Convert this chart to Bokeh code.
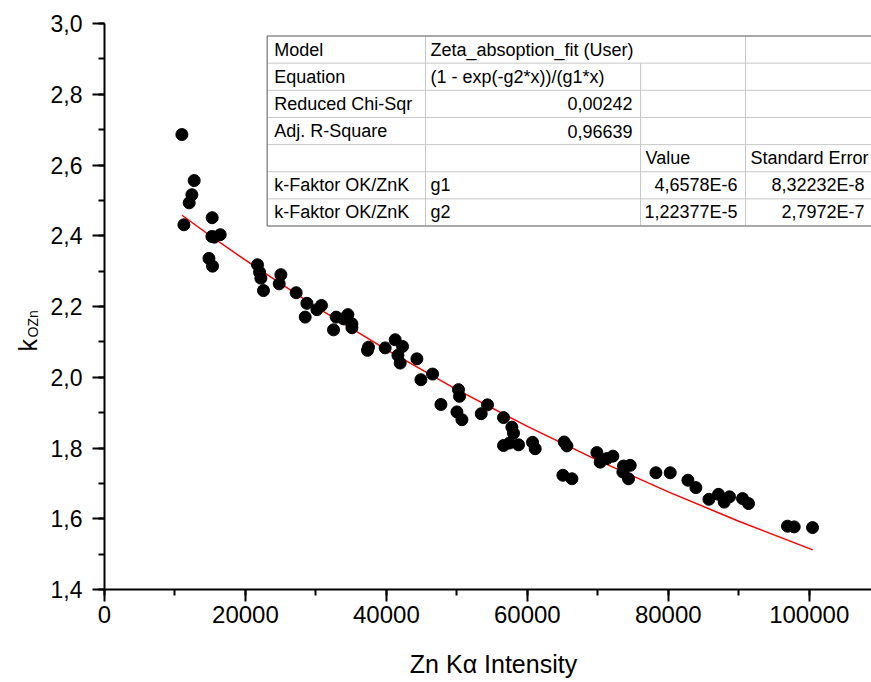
import math
from bokeh.plotting import figure
from bokeh.models import (Range1d, SingleIntervalTicker, CustomJSTickFormatter,
                          NumeralTickFormatter, Label)
from bokeh.embed import file_html
from bokeh.resources import INLINE

# ---------------- data ----------------
x_intensity = [10980, 12730, 12400, 12020, 11270, 15280, 15240, 15570, 16420, 14820,
               15330, 21710, 22000, 22190, 22560, 25030, 24790, 27200, 28720, 28480,
               30140, 30790, 32500, 32880, 34540, 33920, 35110, 35110, 37460, 37320,
               39830, 41250, 42290, 41640, 41960, 44330, 44900, 46550, 47740, 50230,
               50380, 50010, 50720, 53460, 54350, 56620, 57810, 58040, 56620, 57470,
               58750, 60740, 61120, 65230, 65620, 65050, 66330, 69870, 70340, 71290,
               72140, 73560, 74600, 73650, 74360, 78250, 80280, 82790, 83920, 85770,
               87130, 87940, 88690, 90540, 91390, 96920, 97870, 100470]
k_ozn = [2.686, 2.556, 2.516, 2.493, 2.431, 2.451, 2.398, 2.396, 2.403, 2.336,
         2.314, 2.318, 2.297, 2.280, 2.245, 2.290, 2.264, 2.239, 2.209, 2.170,
         2.191, 2.203, 2.134, 2.170, 2.177, 2.165, 2.151, 2.140, 2.085, 2.076,
         2.083, 2.106, 2.087, 2.062, 2.040, 2.052, 1.993, 2.009, 1.923, 1.965,
         1.946, 1.902, 1.880, 1.897, 1.922, 1.886, 1.859, 1.842, 1.807, 1.814,
         1.809, 1.816, 1.798, 1.817, 1.806, 1.723, 1.713, 1.787, 1.760, 1.770,
         1.777, 1.732, 1.751, 1.749, 1.713, 1.730, 1.730, 1.709, 1.688, 1.655,
         1.669, 1.647, 1.662, 1.657, 1.643, 1.579, 1.577, 1.575]

# fitted curve
fit_x = [11000, 15000, 20000, 30000, 40000, 50000, 60000, 70000, 80000, 90000, 100500]
fit_y = [2.458, 2.400, 2.331, 2.199, 2.078, 1.965, 1.861, 1.765, 1.676, 1.593, 1.512]

y_ticks_interval = 0.2
x_ticks_interval = 20000

table_rows = [
    ["Model", "Zeta_absoption_fit (User)", "", ""],
    ["Equation", "(1 - exp(-g2*x))/(g1*x)", "", ""],
    ["Reduced Chi-Sqr", "0,00242", "", ""],
    ["Adj. R-Square", "0,96639", "", ""],
    ["", "", "Value", "Standard Error"],
    ["k-Faktor OK/ZnK", "g1", "4,6578E-6", "8,32232E-8"],
    ["k-Faktor OK/ZnK", "g2", "1,22377E-5", "2,7972E-7"],
]

x_title = "Zn K\u03b1 Intensity"
y_title_main = "k"
y_title_sub = "OZn"

# ---------------- layout ----------------
W, H = 871, 682
L, R, T, B = 104, 0, 23, 93
FW, FH = W - L - R, H - T - B
X_START, X_END = 0, 108840
Y_START, Y_END = 1.4, 3.0


def dx(px):
    return X_START + (px - L) / FW * (X_END - X_START)


def dy(py):
    return Y_END - (py - T) / FH * (Y_END - Y_START)


FONT = "Liberation Sans"

p = figure(width=W, height=H, output_backend="svg", toolbar_location=None,
           x_range=Range1d(X_START, X_END), y_range=Range1d(Y_START, Y_END),
           min_border_left=L, min_border_right=R, min_border_top=T,
           min_border_bottom=B)
p.outline_line_color = None
p.xgrid.grid_line_color = None
p.ygrid.grid_line_color = None
p.background_fill_color = "white"
p.border_fill_color = "white"

for ax in (p.xaxis[0], p.yaxis[0]):
    ax.axis_line_width = 2
    ax.axis_line_color = "black"
    ax.major_tick_line_width = 2
    ax.minor_tick_line_width = 2
    ax.major_tick_out = 12
    ax.major_tick_in = 0
    ax.minor_tick_out = 6
    ax.minor_tick_in = 0
    ax.major_label_text_font = FONT
    ax.major_label_text_color = "black"

p.xaxis[0].ticker = SingleIntervalTicker(interval=x_ticks_interval, num_minor_ticks=2)
p.yaxis[0].ticker = SingleIntervalTicker(interval=y_ticks_interval, num_minor_ticks=2)
p.xaxis[0].formatter = NumeralTickFormatter(format="0")
p.yaxis[0].formatter = CustomJSTickFormatter(code="return tick.toFixed(1).replace('.', ',');")
p.xaxis[0].major_label_text_font_size = "24px"
p.yaxis[0].major_label_text_font_size = "23px"
p.xaxis[0].major_label_standoff = 4
p.yaxis[0].major_label_standoff = 10

# data
p.line(fit_x, fit_y, line_color="#ff0000", line_width=1.5)
p.scatter(x_intensity, k_ozn, marker="circle", size=12, fill_color="black",
          line_color="black")

# ---------------- parameter table ----------------
col_px = [266.7, 425, 640, 745, 880]
row_top, row_h = 35.5, 27.15
n_rows = len(table_rows)
row_px = [row_top + i * row_h for i in range(n_rows + 1)]

p.quad(left=[dx(col_px[0])], right=[dx(col_px[-1])],
       top=[dy(row_px[0])], bottom=[dy(row_px[-1])],
       fill_color="white", line_color=None)

hx0, hx1, hy = [], [], []
for i in range(1, n_rows):
    hx0.append(dx(col_px[0])); hx1.append(dx(col_px[-1])); hy.append(dy(row_px[i]))
p.segment(x0=hx0, y0=hy, x1=hx1, y1=hy, line_color="#c8c8c8", line_width=1)
vx, vy0, vy1 = [], [], []
for c, start_row in ((1, 0), (2, 1), (3, 0)):
    vx.append(dx(col_px[c])); vy0.append(dy(row_px[start_row])); vy1.append(dy(row_px[-1]))
p.segment(x0=vx, y0=vy0, x1=vx, y1=vy1, line_color="#c8c8c8", line_width=1)
p.segment(x0=[dx(col_px[0]), dx(col_px[0]), dx(col_px[0])],
          y0=[dy(row_px[0]), dy(row_px[-1]), dy(row_px[0])],
          x1=[dx(col_px[-1]), dx(col_px[-1]), dx(col_px[0])],
          y1=[dy(row_px[0]), dy(row_px[-1]), dy(row_px[-1])],
          line_color="#8c8c8c", line_width=1.5)

lx, ly, lt = [], [], []
rx, ry, rt = [], [], []
for i, row in enumerate(table_rows):
    cy = dy(row_px[i] + row_h / 2)
    for c, txt in enumerate(row):
        if not txt:
            continue
        if txt[0].isdigit():
            rx.append(dx(col_px[c + 1] - 8 if c < 3 else 864)); ry.append(cy); rt.append(txt)
        else:
            lx.append(dx(col_px[c] + (7 if c == 0 else 5))); ly.append(cy); lt.append(txt)

p.text(x=lx, y=ly, text=lt, text_align="left", text_baseline="middle",
       text_font={"value": FONT}, text_font_size={"value": "18px"}, text_color="black")
p.text(x=rx, y=ry, text=rt, text_align="right", text_baseline="middle",
       text_font={"value": FONT}, text_font_size={"value": "18px"}, text_color="black")

# ---------------- axis titles (side panels, canvas coordinates) ----------------
p.add_layout(Label(x=493, y=663, x_units="canvas", y_units="canvas", text=x_title,
                   text_align="center", text_baseline="middle", text_font=FONT,
                   text_font_size="25px", text_color="black"), "below")
p.add_layout(Label(x=27, y=351, x_units="canvas", y_units="canvas", text=y_title_main,
                   angle=math.pi / 2, text_align="left", text_baseline="alphabetic",
                   text_font=FONT, text_font_size="25px", text_color="black"), "left")
p.add_layout(Label(x=32, y=337, x_units="canvas", y_units="canvas", text=y_title_sub,
                   angle=math.pi / 2, text_align="left", text_baseline="alphabetic",
                   text_font=FONT, text_font_size="14px", text_color="black"), "left")

open("out.html", "w").write(file_html(p, INLINE))
